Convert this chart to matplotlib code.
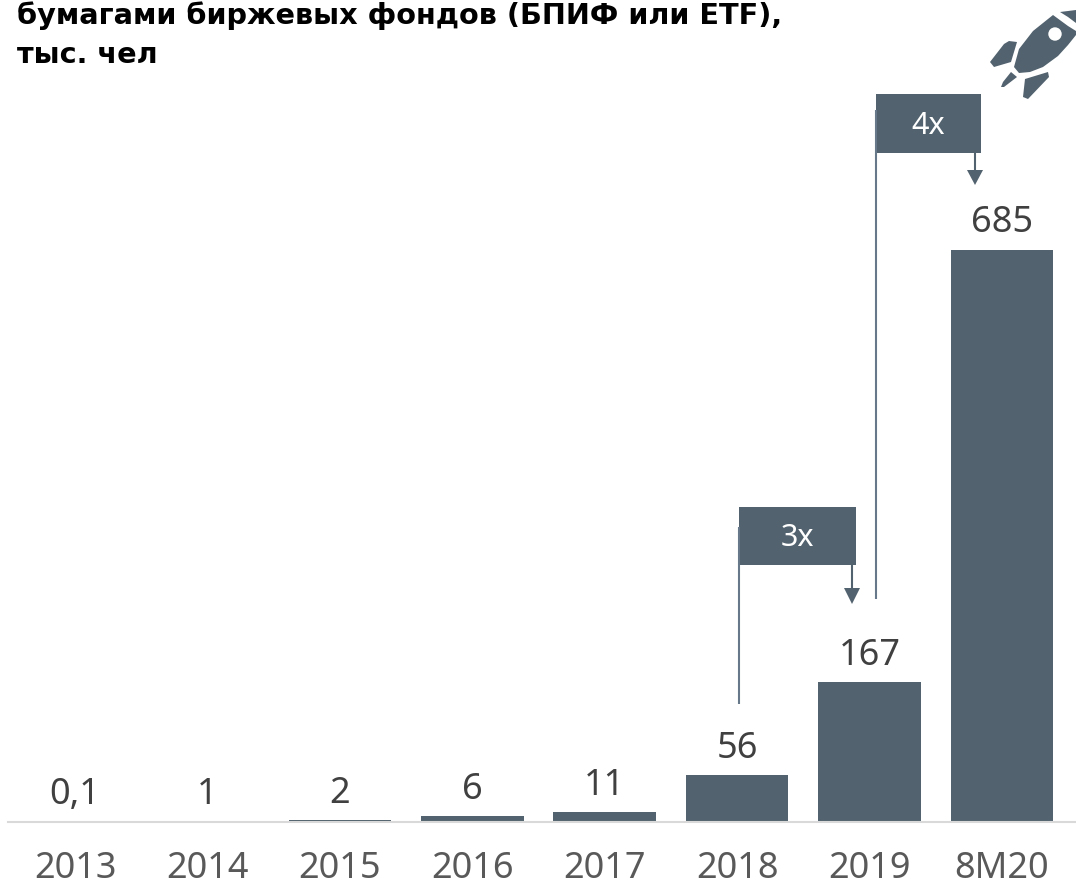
import matplotlib
matplotlib.use('Agg')
import matplotlib.pyplot as plt
from matplotlib.patches import Circle, Polygon, Rectangle

categories = ['2013', '2014', '2015', '2016', '2017', '2018', '2019', '8M20']
investors = [0.1, 1, 2, 6, 11, 56, 167, 685]
value_labels = ['0,1', '1', '2', '6', '11', '56', '167', '685']
title = 'бумагами биржевых фондов (БПИФ или ETF),\nтыс. чел'

DARK = '#52626E'
W, H = 1076, 887

plt.rcParams['font.family'] = ['Noto Sans', 'DejaVu Sans']

fig = plt.figure(figsize=(W / 100, H / 100), dpi=100)

# main chart, baseline at y=822px
ax = fig.add_axes([8 / W, (H - 822.5) / H, (W - 8) / W, 822.5 / H])
xpos = list(range(len(categories)))
ax.bar(xpos, investors, width=0.775, color=DARK)
ax.set_xlim(-0.507, 7.5604)
ax.set_ylim(0, 822.5 / 0.835)
for s in ['top', 'left', 'right']:
    ax.spines[s].set_visible(False)
ax.spines['bottom'].set_color('#D9D9D9')
ax.spines['bottom'].set_linewidth(1.5)
ax.set_yticks([])
ax.set_xticks(xpos, categories)
ax.tick_params(axis='x', length=0, pad=20.5, labelsize=26, labelcolor='#595959')
for x, v, lab in zip(xpos, investors, value_labels):
    ax.annotate(lab, (x, v), xytext=(0, 13), textcoords='offset points',
                ha='center', va='baseline', fontsize=26, color='#404040')

# overlay in pixel coords for title, growth brackets and rocket
pix = fig.add_axes([0, 0, 1, 1])
pix.set_xlim(0, W)
pix.set_ylim(H, 0)
pix.axis('off')
pix.patch.set_alpha(0)

pix.text(17, 24, title.split('\n')[0], fontsize=20.7, fontweight='bold',
         color='black', ha='left', va='baseline', family=['DejaVu Sans'])
pix.text(17, 63, title.split('\n')[1], fontsize=20.7, fontweight='bold',
         color='black', ha='left', va='baseline', family=['DejaVu Sans'])


def bracket(x0, x1, top, bottom, line_top, line_end, ax_x, tip, head, label):
    pix.plot([x0, x0], [line_top, line_end], color='#66788A', lw=1.5,
             solid_capstyle='butt')
    pix.add_patch(Rectangle((x0, top), x1 - x0, bottom - top, color=DARK, lw=0))
    pix.plot([ax_x, ax_x], [bottom, head], color=DARK, lw=1.5)
    pix.add_patch(Polygon([(ax_x - 8, head), (ax_x + 8, head), (ax_x, tip)],
                          color=DARK, lw=0))
    pix.text((x0 + x1) / 2, (top + bottom) / 2 + 1, label, color='white',
             fontsize=22, ha='center', va='center')


bracket(739, 856, 508, 566, 528, 705, 852, 605, 589, '3x')
bracket(876, 981, 95, 154, 111, 600, 975, 186, 171, '4x')

# rocket
body = [(1053, 16), (1068, 27), (1076, 32), (1076, 36), (1068, 46), (1058, 57),
        (1043, 68), (1030, 73), (1019, 74), (1014, 68), (1019, 50), (1033, 32)]
nose = [(1060, 13), (1076, 11), (1076, 24), (1068, 18)]
fin1 = [(1009, 42), (1017, 43), (1011, 63), (994, 68), (990, 63), (1004, 45)]
fin2 = [(1011, 73), (1017, 78), (1004, 88), (1001, 88), (1003, 83)]
fin3 = [(1048, 73), (1049, 78), (1028, 100), (1023, 98), (1025, 80)]
for shape in [body, nose, fin1, fin2, fin3]:
    pix.add_patch(Polygon(shape, color=DARK, lw=0, joinstyle='round'))
pix.add_patch(Circle((1055, 35), 6.7, color='white', lw=0))

fig.savefig('out.png', dpi=100)
